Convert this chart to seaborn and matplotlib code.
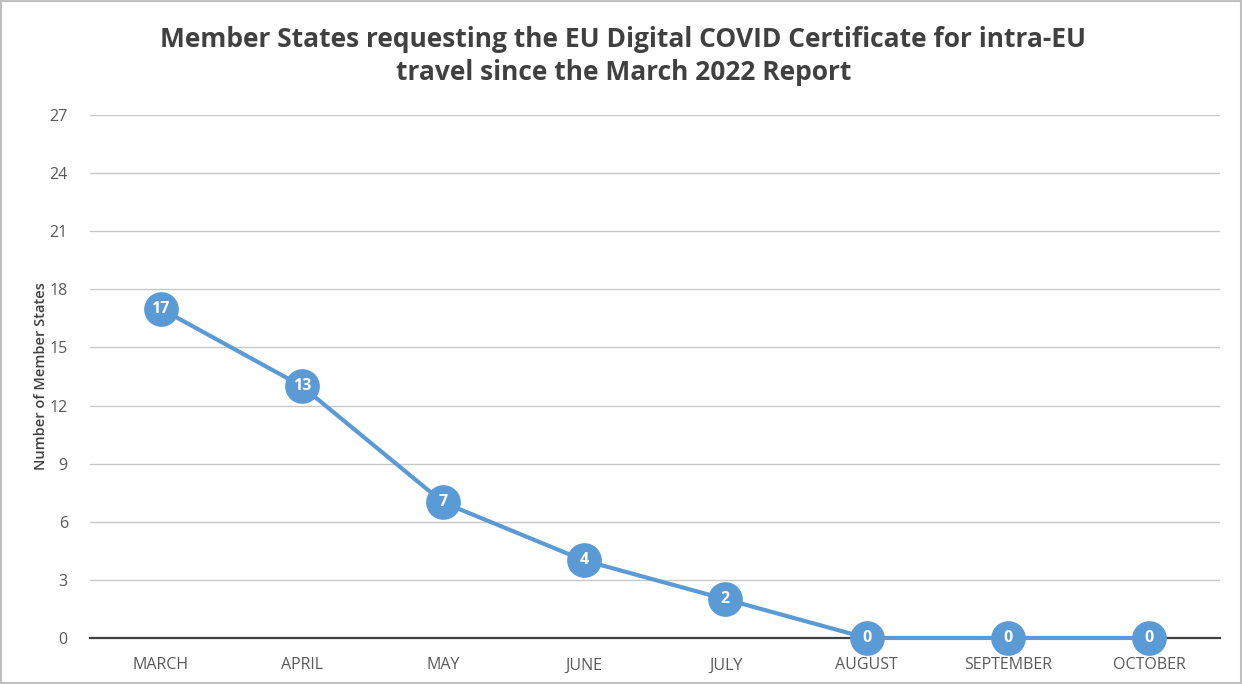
import pandas as pd
import matplotlib.pyplot as plt
import seaborn as sns

# Member States requesting the EU DCC for intra-EU travel
months = ['MARCH', 'APRIL', 'MAY', 'JUNE', 'JULY', 'AUGUST', 'SEPTEMBER', 'OCTOBER']
member_states = [17, 13, 7, 4, 2, 0, 0, 0]
y_ticks = [0, 3, 6, 9, 12, 15, 18, 21, 24, 27]

df = pd.DataFrame({'Month': months, 'States': member_states})
df['pos'] = range(len(df))

sns.set_style('white')
plt.rcParams['font.family'] = ['Open Sans', 'DejaVu Sans']

fig = plt.figure(figsize=(12.42, 6.84), dpi=100)
ax = fig.add_axes([0.0725, 0.0673, 0.9095, 0.7646])

blue = '#5b9bd5'
sns.lineplot(data=df, x='pos', y='States', ax=ax, color=blue, linewidth=3,
             marker='o', markersize=25, markeredgewidth=0, zorder=3, clip_on=False)

for _, r in df.iterrows():
    ax.text(r['pos'], r['States'], str(r['States']), color='white', fontsize=11.5,
            fontweight='bold', ha='center', va='center', zorder=4, clip_on=False)

ax.set_xlim(-0.5, 7.5)
ax.set_ylim(0, 27)
ax.set_yticks(y_ticks)
ax.set_xticks(df['pos'])
ax.set_xticklabels(months)
ax.tick_params(axis='both', length=0, labelsize=11.5, labelcolor='#595959')
ax.tick_params(axis='y', pad=16)
ax.tick_params(axis='x', pad=14)
ax.yaxis.grid(True, color='#c8c8c8', linewidth=1)
ax.set_axisbelow(True)
for s in ['top', 'right', 'left']:
    ax.spines[s].set_visible(False)
ax.spines['bottom'].set_color('#404040')
ax.spines['bottom'].set_linewidth(1.6)
ax.spines['bottom'].set_zorder(2)

ax.set_xlabel('')
ax.set_ylabel('Number of Member States', fontsize=10.5, color='#404040',
              fontweight='semibold', labelpad=1)

fig.suptitle('Member States requesting the EU Digital COVID Certificate for intra-EU\ntravel since the March 2022 Report',
             x=0.502, y=0.962, fontsize=19, fontweight='bold', color='#404040', linespacing=1.3)

fig.patches.append(plt.Rectangle((0.001, 0.001), 0.998, 0.998, transform=fig.transFigure,
                                 fill=False, edgecolor='#bfbfbf', linewidth=1.5))

plt.savefig('out.png', dpi=100)
